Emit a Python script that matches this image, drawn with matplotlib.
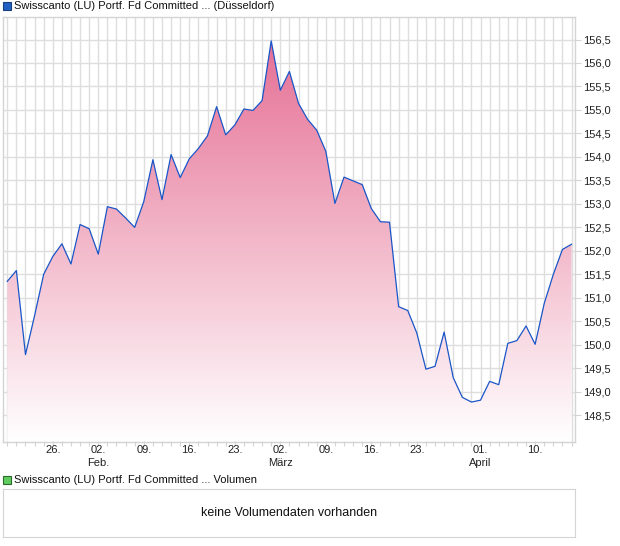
import numpy as np
import pandas as pd
import matplotlib
matplotlib.use("Agg")
import matplotlib.pyplot as plt
from matplotlib.colors import LinearSegmentedColormap
from matplotlib.patches import Rectangle

plt.rcParams['font.family'] = ['Liberation Sans', 'DejaVu Sans']

### data: daily closing prices (Düsseldorf), trading days only
days = pd.bdate_range("2026-01-19", "2026-04-16")
days = days[days != pd.Timestamp("2026-04-03")]   # Karfreitag
prices = [151.35, 151.58, 149.79, 150.62, 151.50, 151.88, 152.15, 151.72, 152.56, 152.47,
          151.93, 152.94, 152.89, 152.70, 152.50, 153.05, 153.94, 153.09, 154.05, 153.56,
          153.96, 154.18, 154.45, 155.07, 154.47, 154.68, 155.02, 154.99, 155.20, 156.47,
          155.42, 155.82, 155.14, 154.80, 154.57, 154.12, 153.01, 153.57, 153.49, 153.41,
          152.90, 152.62, 152.61, 150.81, 150.73, 150.25, 149.48, 149.54, 150.27, 149.30,
          148.88, 148.78, 148.82, 149.22, 149.15, 150.03, 150.09, 150.40, 150.01, 150.88,
          151.50, 152.03, 152.14]
tick_dates = ["2026-01-26", "2026-02-02", "2026-02-09", "2026-02-16", "2026-02-23", "2026-03-02",
              "2026-03-09", "2026-03-16", "2026-03-23", "2026-04-01", "2026-04-10"]
month_labels = {"2026-02-02": "Feb.", "2026-03-02": "März", "2026-04-01": "April"}
y_ticks = [148.5, 149.0, 149.5, 150.0, 150.5, 151.0, 151.5, 152.0, 152.5, 153.0,
           153.5, 154.0, 154.5, 155.0, 155.5, 156.0, 156.5]

title_price = "Swisscanto (LU) Portf. Fd Committed ... (Düsseldorf)"
title_vol = "Swisscanto (LU) Portf. Fd Committed ... Volumen"
no_vol = "keine Volumendaten vorhanden"

#######################################
###     figure
#######################################
W, H = 620, 546
fig = plt.figure(figsize=(W / 100, H / 100), dpi=100)

def box(x0, y0, x1, y1):
    # pixel box -> figure fraction
    return [x0 / W, 1 - y1 / H, (x1 - x0) / W, (y1 - y0) / H]

frame_col = '#d4d4d4'
grid_col = '#dedede'
ax = fig.add_axes(box(3, 16.5, 575, 441.5))
x = np.arange(len(days))
ymin, ymax = 147.94, 156.99
ax.set_xlim(-0.47, 62.38)
ax.set_ylim(ymin, ymax)

# gradient fill under the line
cmap = LinearSegmentedColormap.from_list('pink', ['#ffffff', '#e4688f'])
grad = np.linspace(0, 1, 256).reshape(-1, 1)
img = ax.imshow(grad, cmap=cmap, origin='lower', aspect='auto',
                extent=[x[0], x[-1], ymin, ymax], zorder=2)
poly = ax.fill_between(x, prices, ymin, color='none', lw=0)
clip = poly.get_paths()[0]
img.set_clip_path(clip, transform=ax.transData)
ax.plot(x, prices, color='#1a56c8', lw=0.9, zorder=3)

# grid: each trading day, each 0.5
ax.set_xticks(x)
ax.set_yticks(y_ticks)
ax.grid(True, color=grid_col, lw=1.0, zorder=0)
ax.set_axisbelow(True)
ax.yaxis.tick_right()
ax.tick_params(axis='y', length=4, color=frame_col, labelsize=8, pad=2, labelcolor='#222222')
ax.set_yticklabels([f"{v:.1f}".replace('.', ',') for v in y_ticks])
ax.tick_params(axis='x', length=3, color=frame_col, labelbottom=False)
for s in ax.spines.values():
    s.set_color(frame_col)
    s.set_linewidth(1.0)

# date labels
for d in tick_dates:
    i = days.get_loc(pd.Timestamp(d))
    ax.text(i, -0.008, pd.Timestamp(d).strftime("%d."), transform=ax.get_xaxis_transform(),
            ha='center', va='top', fontsize=8, color='#222222')
    if d in month_labels:
        ax.text(i, -0.04, month_labels[d], transform=ax.get_xaxis_transform(),
                ha='center', va='top', fontsize=8, color='#222222')

# legends
fig.patches.append(Rectangle((3 / W, 1 - 10 / H), 8 / W, 8 / H, transform=fig.transFigure,
                             facecolor='#2060c0', edgecolor='#1a3f80', lw=0.8))
fig.text(14 / W, 1 - 6 / H, title_price, ha='left', va='center', fontsize=8, color='#111111')
fig.patches.append(Rectangle((3 / W, 1 - 484 / H), 8 / W, 8 / H, transform=fig.transFigure,
                             facecolor='#60cc60', edgecolor='#2a6a2a', lw=0.8))
fig.text(14 / W, 1 - 480 / H, title_vol, ha='left', va='center', fontsize=8, color='#111111')

# empty volume panel
axv = fig.add_axes(box(3, 489, 575, 537))
axv.set_xticks([])
axv.set_yticks([])
for s in axv.spines.values():
    s.set_color(frame_col)
axv.text(0.5, 0.5, no_vol, ha='center', va='center', fontsize=9, color='#111111',
         transform=axv.transAxes)

fig.savefig("out.png", dpi=100)
